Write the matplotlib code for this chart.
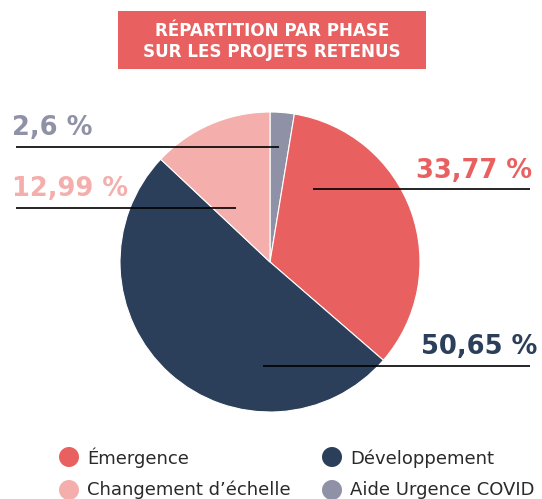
import matplotlib
matplotlib.use("Agg")
import matplotlib.pyplot as plt
from matplotlib.patches import Rectangle, Circle

categories = ["Émergence", "Développement", "Changement d\u2019échelle", "Aide Urgence COVID"]
values = [33.77, 50.65, 12.99, 2.6]
value_labels = ["33,77 %", "50,65 %", "12,99 %", "2,6 %"]
colors = ["#E96060", "#2B3E5A", "#F4AFAD", "#8F91A6"]
title_lines = ["RÉPARTITION PAR PHASE", "SUR LES PROJETS RETENUS"]
# clockwise drawing order starting at 12 o'clock
pie_order = [3, 0, 1, 2]

W, H = 542, 499
fig = plt.figure(figsize=(W / 100, H / 100), dpi=100)
ax = fig.add_axes([0, 0, 1, 1])

def Y(y):
    return H - y

ax.pie([values[i] for i in pie_order], colors=[colors[i] for i in pie_order],
       startangle=90, counterclock=False,
       center=(270, Y(262)), radius=150,
       wedgeprops=dict(edgecolor="white", linewidth=0.8))
ax.set_xlim(0, W)
ax.set_ylim(0, H)
ax.set_aspect("equal")
ax.axis("off")

BOLD = dict(family="DejaVu Sans", fontweight="bold")

# title box
ax.add_patch(Rectangle((118, Y(69)), 308, 58, facecolor="#E96060", edgecolor="none"))
for t, by in zip(title_lines, [36, 57]):
    ax.text(272, Y(by), t, ha="center", va="baseline", color="white",
            fontsize=12.1, **BOLD)

# value labels with leader lines
lab_cfg = [
    # text x, baseline y, ha, line x0, x1, line y
    (532, 178, "right", 313, 530, 189),
    (537, 354, "right", 263, 530, 366),
    (12, 196, "left", 16, 236, 208),
    (12, 135, "left", 16, 279, 147),
]
for (tx, ty, ha, x0, x1, ly), lab, c in zip(lab_cfg, value_labels, colors):
    ax.text(tx, Y(ty), lab, ha=ha, va="baseline", color=c, fontsize=18.5, **BOLD)
    ax.plot([x0, x1], [Y(ly), Y(ly)], color="black", lw=1.2, solid_capstyle="butt")

# legend
leg_pos = [(69, 457, 464), (332, 457, 464), (69, 490, 495), (332, 490, 495)]
for (cx, cy, by), lab, c in zip(leg_pos, categories, colors):
    ax.add_patch(Circle((cx, Y(cy)), 10, facecolor=c, edgecolor="none"))
    ax.text(cx + 18, Y(by), lab, ha="left", va="baseline", color="#2a2a2a",
            fontsize=13, family="DejaVu Sans")

fig.savefig("out.png", dpi=100)
